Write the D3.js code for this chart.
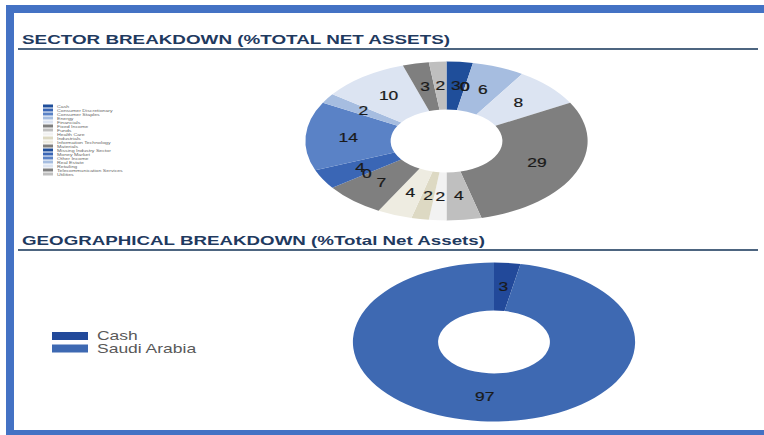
<!DOCTYPE html>
<html>
<head>
<meta charset="utf-8">
<script src="https://cdn.jsdelivr.net/npm/d3@7"></script>
<style>
  body { margin: 0; background: #fff; }
  svg { display: block; font-family: Arial, "Liberation Sans", sans-serif; }
</style>
</head>
<body>
<svg id="chart"></svg>
<script>
// data
const sectorNames = ['Cash', 'Consumer Discretionary', 'Consumer Staples', 'Energy', 'Financials',
  'Fixed Income', 'Funds', 'Health Care', 'Industrials', 'Information Technology', 'Materials',
  'Missing Industry Sector', 'Money Market', 'Other Income', 'Real Estate', 'Retailing',
  'Telecommunication Services', 'Utilities'];
const sectorValues = [3, 0, 0, 6, 8, 29, 4, 2, 2, 4, 7, 0, 4, 14, 2, 10, 3, 2];

const geoNames = ['Cash', 'Saudi Arabia'];
const geoValues = [3, 97];

// palette (repeats like the office default)
const sectorPalette = ['#1f4e9a', '#3a66b5', '#5a82c6', '#a6bde0', '#dce4f2',
  '#7f7f7f', '#bfbfbf', '#f2f2f2', '#ddd9c3', '#eeece1', '#7f7f7f',
  '#1f4e9a', '#3a66b5', '#5a82c6', '#a6bde0', '#dce4f2', '#7f7f7f', '#bfbfbf'];
const geoPalette = ['#22499a', '#3e69b2'];

const config = {
  width: 764, height: 435,
  frame: '#4472c4',
  heading: '#1f3a5f',
  rule: '#4d6580',
  stretch: 1.775,       // the whole pie is squashed into an ellipse
  textStretch: 1.45,
  outer: 79.5, inner: 31.5
};

const svg = d3.select('#chart')
    .attr('width', config.width)
    .attr('height', config.height);

// blue frame
svg.append('rect').attr('x', 6).attr('y', 5).attr('width', config.width - 6).attr('height', 8).attr('fill', config.frame);
svg.append('rect').attr('x', 6).attr('y', 5).attr('width', 8).attr('height', config.height - 5).attr('fill', config.frame);
svg.append('rect').attr('x', 6).attr('y', 430).attr('width', config.width - 6).attr('height', 5).attr('fill', config.frame);

// headings + rules
function heading(text, y, len) {
  svg.append('text')
      .attr('x', 22).attr('y', y)
      .attr('font-size', 13).attr('font-weight', 'bold')
      .attr('fill', config.heading)
      .attr('textLength', len).attr('lengthAdjust', 'spacingAndGlyphs')
      .text(text);
}
heading('SECTOR BREAKDOWN (%TOTAL NET ASSETS)', 44, 428);
heading('GEOGRAPHICAL BREAKDOWN (%Total Net Assets)', 245, 463);

[49, 250].forEach(y => {
  svg.append('line')
      .attr('x1', 18).attr('x2', 758)
      .attr('y1', y).attr('y2', y)
      .attr('stroke', config.rule).attr('stroke-width', 2);
});

const pie = d3.pie().sort(null).value(d => d);
const arc = d3.arc().innerRadius(config.inner).outerRadius(config.outer);

function donut(values, palette, cx, cy) {
  const arcs = pie(values);
  const g = svg.append('g')
      .attr('transform', `translate(${cx},${cy}) scale(${config.stretch},1)`);
  g.selectAll('path')
      .data(arcs)
      .join('path')
      .attr('d', arc)
      .attr('fill', (d, i) => palette[i]);

  // labels sit on the ring's centroid; the zero slices overlap like the original
  svg.append('g').selectAll('text')
      .data(arcs)
      .join('text')
      .attr('transform', d => {
        const c = arc.centroid(d);
        return `translate(${cx + c[0] * config.stretch},${cy + c[1]}) scale(${config.textStretch},1)`;
      })
      .attr('text-anchor', 'middle')
      .attr('dy', '0.35em')
      .attr('font-size', 12)
      .attr('fill', '#1a1a1a')
      .attr('stroke', '#1a1a1a').attr('stroke-width', 0.2)
      .text(d => d.data);
}

donut(sectorValues, sectorPalette, 446.5, 141);
donut(geoValues, geoPalette, 494, 342);

// tiny sector legend
const legend = svg.append('g');
legend.selectAll('rect')
    .data(sectorNames)
    .join('rect')
    .attr('x', 43).attr('y', (d, i) => 104.5 + i * 4)
    .attr('width', 10).attr('height', 3)
    .attr('fill', (d, i) => sectorPalette[i]);
legend.selectAll('text')
    .data(sectorNames)
    .join('text')
    .attr('transform', (d, i) => `translate(57,${107.5 + i * 4}) scale(1.3,1)`)
    .attr('font-size', 4)
    .attr('fill', '#666')
    .text(d => d);

// geography legend
const geoLegend = svg.append('g');
geoLegend.selectAll('rect')
    .data(geoNames)
    .join('rect')
    .attr('x', 52).attr('y', (d, i) => 332 + i * 12.5)
    .attr('width', 36).attr('height', 8)
    .attr('fill', (d, i) => geoPalette[i]);
geoLegend.selectAll('text')
    .data(geoNames)
    .join('text')
    .attr('transform', (d, i) => `translate(97,${340 + i * 12.5}) scale(1.4,1)`)
    .attr('font-size', 12.5)
    .attr('fill', '#595959')
    .text(d => d);
</script>
</body>
</html>
